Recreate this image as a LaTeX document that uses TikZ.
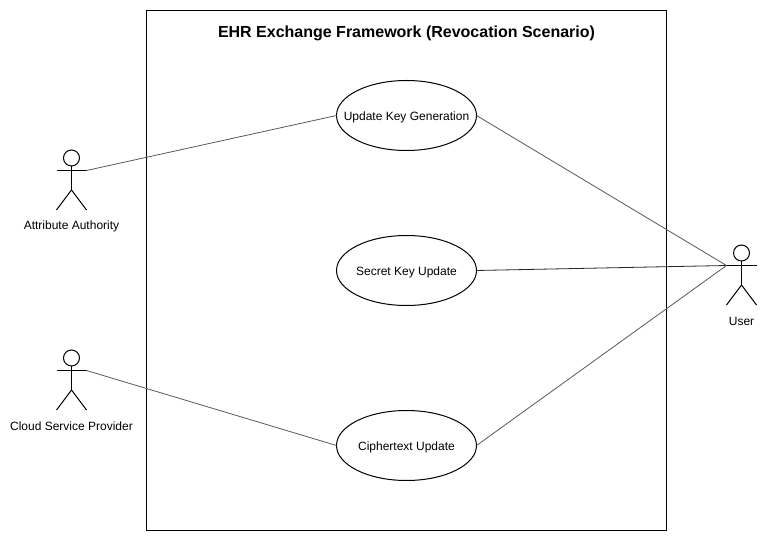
\documentclass[tikz,border=0pt]{standalone}
\usepackage{fontspec}
\setmainfont{Liberation Sans}
\usetikzlibrary{shapes.geometric}
\tikzset{
  usecase/.style={draw,ellipse,minimum width=105pt,minimum height=52.5pt,inner sep=0pt,outer sep=0pt,line width=0.75pt,font=\fontsize{9pt}{11pt}\selectfont},
  conn/.style={line width=0.6pt,draw=black!65},
  actlabel/.style={font=\fontsize{9pt}{11pt}\selectfont,inner sep=0pt},
  actline/.style={line width=0.75pt}
}
\newcommand{\actorfig}[2]{%
  \draw[actline] (#1,#2) circle[radius=8];
  \draw[actline] (#1,#2+8) -- (#1,#2+32);
  \draw[actline] (#1-15,#2+12.5) -- (#1+15,#2+12.5);
  \draw[actline] (#1-15,#2+52) -- (#1,#2+32) -- (#1+15,#2+52);
}
\newcommand{\uctext}[1]{\raisebox{-1.2pt}[\height][\depth]{\makebox[0pt][c]{#1}}}
\begin{document}
\begin{tikzpicture}[x=0.75pt,y=-0.75pt]
\useasboundingbox[fill=white] (0,0) rectangle (767,541);
\node[draw,line width=0.75pt,minimum width=390pt,minimum height=390pt,inner sep=0pt,outer sep=0pt,anchor=north west] (sys) at (146.5,10.5) {};
\node[font=\bfseries\fontsize{12pt}{14pt}\selectfont] (title) at (406.5,33.7) {EHR Exchange Framework (Revocation Scenario)};
\node[usecase] (u1) at (406.5,115.5) {\uctext{Update Key Generation}};
\node[usecase] (u2) at (406.5,270.5) {\uctext{Secret Key Update}};
\node[usecase] (u3) at (406.5,445.5) {\uctext{Ciphertext Update}};
\actorfig{71.5}{158}
\actorfig{71.5}{358}
\actorfig{741.5}{253}
\coordinate (aa) at (86.5,170.5);
\coordinate (csp) at (86.5,370.5);
\coordinate (user) at (726.5,265.5);
\node[actlabel] (laa) at (71.5,226) {Attribute Authority};
\node[actlabel] (lcsp) at (71.5,426) {Cloud Service Provider};
\node[actlabel] (lu) at (741.5,321) {User};
\draw[conn] (aa) -- (u1.west);
\draw[conn] (csp) -- (u3.west);
\draw[conn] (u1.east) -- (user);
\draw[conn,draw=black!85] (u2.east) -- (user);
\draw[conn] (u3.east) -- (user);
\end{tikzpicture}
\end{document}
